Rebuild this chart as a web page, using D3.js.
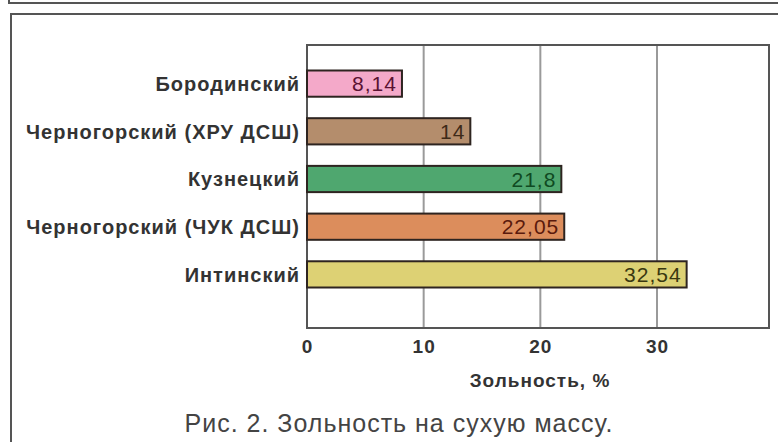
<!DOCTYPE html>
<html>
<head>
<meta charset="utf-8">
<script src="https://cdn.jsdelivr.net/npm/d3@7"></script>
<style>
  body { margin: 0; background: #fff; }
  svg { display: block; font-family: "Liberation Sans", Arial, sans-serif; }
</style>
</head>
<body>
<div id="chart"></div>
<script>
// данные: зольность на сухую массу, %
var categories = ['Бородинский', 'Черногорский (ХРУ ДСШ)', 'Кузнецкий', 'Черногорский (ЧУК ДСШ)', 'Интинский'];
var values = [8.14, 14, 21.8, 22.05, 32.54];
var valueLabels = ['8,14', '14', '21,8', '22,05', '32,54'];
var barColors = ['#f4a9c9', '#b48d6c', '#4fa76f', '#dc8d5c', '#ddd174'];
var textColors = ['#5a1232', '#3e2a18', '#0f4a22', '#5a1a0c', '#3a3810'];
var xTicks = [0, 10, 20, 30];

var width = 778, height = 442;
var plot = { left: 307, right: 769, top: 45, bottom: 328 };

var svg = d3.select('#chart').append('svg')
    .attr('width', width)
    .attr('height', height);

// рамки (нижний край предыдущего рисунка и рамка этого)
svg.append('path')
    .attr('d', 'M9,0V3H778')
    .attr('fill', 'none')
    .attr('stroke', '#555')
    .attr('stroke-width', 2);
svg.append('path')
    .attr('d', 'M11,442V14H778')
    .attr('fill', 'none')
    .attr('stroke', '#555')
    .attr('stroke-width', 2);

var x = d3.scaleLinear()
    .domain([0, 39.6])
    .range([plot.left, plot.right]);

var y = d3.scaleBand()
    .domain(categories)
    .range([60, 298])
    .paddingInner(0.45)
    .paddingOuter(0.22);

// сетка
svg.append('g').selectAll('line')
    .data(xTicks.slice(1))
    .enter().append('line')
    .attr('x1', d => x(d)).attr('x2', d => x(d))
    .attr('y1', plot.top).attr('y2', plot.bottom)
    .attr('stroke', '#9a9a9a')
    .attr('stroke-width', 2);

svg.append('rect')
    .attr('x', plot.left)
    .attr('y', plot.top)
    .attr('width', plot.right - plot.left)
    .attr('height', plot.bottom - plot.top)
    .attr('fill', 'none')
    .attr('stroke', '#555')
    .attr('stroke-width', 2);

// столбики
var bars = svg.append('g').selectAll('g')
    .data(categories)
    .enter().append('g');

bars.append('rect')
    .attr('x', x(0))
    .attr('y', d => y(d))
    .attr('width', (d, i) => x(values[i]) - x(0))
    .attr('height', y.bandwidth())
    .attr('fill', (d, i) => barColors[i])
    .attr('stroke', '#2e2420')
    .attr('stroke-width', 2);

bars.append('text')
    .attr('x', (d, i) => x(values[i]) - 5)
    .attr('y', d => y(d) + y.bandwidth() / 2)
    .attr('dy', '0.36em')
    .attr('text-anchor', 'end')
    .attr('font-size', 21)
    .attr('letter-spacing', 1)
    .attr('fill', (d, i) => textColors[i])
    .text((d, i) => valueLabels[i]);

// подписи категорий
svg.append('g').selectAll('text')
    .data(categories)
    .enter().append('text')
    .attr('x', plot.left - 7)
    .attr('y', d => y(d) + y.bandwidth() / 2)
    .attr('dy', '0.36em')
    .attr('text-anchor', 'end')
    .attr('font-size', 20)
    .attr('font-weight', 'bold')
    .attr('letter-spacing', 1)
    .attr('fill', '#333')
    .text(d => d);

// ось X
var xAxis = d3.axisBottom(x).tickValues(xTicks).tickSize(0).tickPadding(12);
var xg = svg.append('g')
    .attr('transform', 'translate(0,' + plot.bottom + ')')
    .call(xAxis);
xg.select('.domain').remove();
xg.selectAll('text')
    .attr('font-size', 19)
    .attr('font-weight', 'bold')
    .attr('letter-spacing', 1)
    .attr('fill', '#333');

svg.append('text')
    .attr('x', 540)
    .attr('y', 380)
    .attr('dy', '0.36em')
    .attr('text-anchor', 'middle')
    .attr('font-size', 19)
    .attr('font-weight', 'bold')
    .attr('letter-spacing', 1)
    .attr('fill', '#333')
    .text('Зольность, %');

svg.append('text')
    .attr('x', 399)
    .attr('y', 423)
    .attr('dy', '0.36em')
    .attr('text-anchor', 'middle')
    .attr('font-size', 25)
    .attr('letter-spacing', 1)
    .attr('fill', '#444')
    .text('Рис. 2. Зольность на сухую массу.');
</script>
</body>
</html>
